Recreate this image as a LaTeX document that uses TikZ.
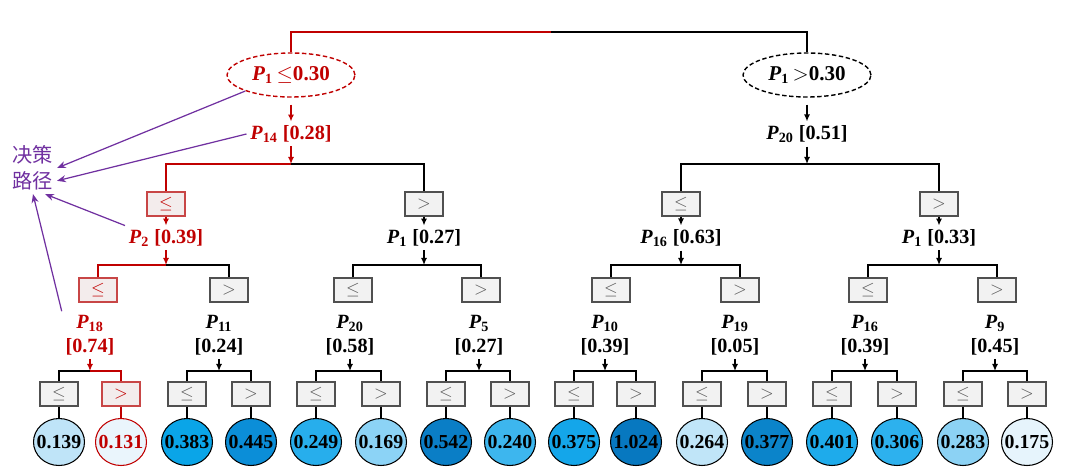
\documentclass[tikz,border=0pt]{standalone}
\usepackage{fontspec}
\setmainfont{Liberation Serif}
\newfontfamily\cjk{Noto Sans CJK SC}
\usepackage{tikz}
\usetikzlibrary{shapes.geometric,arrows.meta}

\definecolor{tred}{RGB}{192,0,0}
\definecolor{tpurple}{RGB}{112,48,160}
\definecolor{boxedge}{RGB}{80,80,80}
\definecolor{boxfill}{RGB}{242,242,242}
\definecolor{boxred}{RGB}{200,70,70}
\definecolor{boxpink}{RGB}{243,236,236}
\definecolor{signgray}{RGB}{90,90,90}
% leaf fills
\definecolor{cA}{HTML}{BFE4F8}
\definecolor{cB}{HTML}{EAF5FC}
\definecolor{cC}{HTML}{0AA5E8}
\definecolor{cD}{HTML}{0B8ED8}
\definecolor{cE}{HTML}{27AEEC}
\definecolor{cF}{HTML}{8CD3F6}
\definecolor{cG}{HTML}{0A7EC6}
\definecolor{cH}{HTML}{3DB6EE}
\definecolor{cI}{HTML}{14A6EA}
\definecolor{cJ}{HTML}{0778C0}
\definecolor{cK}{HTML}{C0E5F8}
\definecolor{cL}{HTML}{0B84CA}
\definecolor{cM}{HTML}{1EABEB}
\definecolor{cN}{HTML}{2DB1EE}
\definecolor{cO}{HTML}{8CD2F4}
\definecolor{cP}{HTML}{E6F4FC}

\newcommand{\pv}[1]{\textit{P}\textsubscript{#1}}

\tikzstyle{cond} = [ellipse, draw, dash pattern=on 2.5pt off 1.5pt, line width=0.8pt,
minimum width=2.56cm, minimum height=0.88cm, inner sep=0pt,
font=\bfseries\fontsize{12}{14}\selectfont]
\tikzstyle{split} = [inner sep=2pt, align=center, font=\bfseries\fontsize{11.5}{13.6}\selectfont]
\tikzstyle{sign} = [draw=boxedge, fill=boxfill, line width=0.8pt, minimum width=0.76cm,
minimum height=0.48cm, inner sep=0pt, text=signgray]
\tikzstyle{redsign} = [sign, draw=boxred, fill=boxpink, text=tred]
\tikzstyle{leaf} = [ellipse, draw, line width=0.6pt, minimum width=1.02cm, minimum height=0.94cm,
inner xsep=-2.6pt, inner ysep=0pt, font=\bfseries\fontsize{11.3}{13}\selectfont]
\tikzstyle{link} = [line width=0.8pt]
\tikzstyle{arr} = [link, -{Latex[length=4pt,width=3.5pt]}]
\tikzstyle{note} = [draw=tpurple, line width=0.7pt, -{Stealth[length=5pt,width=4pt]}]

\begin{document}
\begin{tikzpicture}[x=0.02cm,y=-0.02cm]
\useasboundingbox (0,0) rectangle (1069,474);

% root
\coordinate (top) at (551,32);
\node[cond, draw=tred, text=tred] (c1) at (291,75) {\pv{1}\,$\leq$0.30};
\node[cond] (c2) at (807,75) {\pv{1}\,$>$0.30};
\draw[link, tred] (c1.north) |- (top);
\draw[link] (c2.north) |- (top);

% level 2
\node[split, text=tred] (s14) at (291,134) {\pv{14} [0.28]};
\node[split] (s20a) at (807,134) {\pv{20} [0.51]};
\draw[arr, tred, shorten <=4pt] (c1) -- (s14);
\draw[arr, shorten <=4pt] (c2) -- (s20a);
\coordinate (j14) at (291,164);
\coordinate (j20a) at (807,164);
\draw[arr, tred] (s14) -- (j14);
\draw[arr] (s20a) -- (j20a);
\node[redsign] (b14l) at (166,204) {$\leq$};
\node[sign] (b14r) at (424,204) {$>$};
\node[sign] (b20l) at (681,204) {$\leq$};
\node[sign] (b20r) at (939,204) {$>$};
\draw[link, tred] (j14) -| (b14l);
\draw[link] (j14) -| (b14r);
\draw[link] (j20a) -| (b20l);
\draw[link] (j20a) -| (b20r);

% level 3
\node[split, text=tred] (s2) at (166,238) {\pv{2} [0.39]};
\node[split] (s1a) at (424,238) {\pv{1} [0.27]};
\node[split] (s16a) at (681,238) {\pv{16} [0.63]};
\node[split] (s1b) at (939,238) {\pv{1} [0.33]};
\draw[arr, tred] (b14l) -- (s2);
\draw[arr] (b14r) -- (s1a);
\draw[arr] (b20l) -- (s16a);
\draw[arr] (b20r) -- (s1b);
\coordinate (j2) at (166,265);
\coordinate (j1a) at (424,265);
\coordinate (j16a) at (681,265);
\coordinate (j1b) at (939,265);
\draw[arr, tred] (s2) -- (j2);
\draw[arr] (s1a) -- (j1a);
\draw[arr] (s16a) -- (j16a);
\draw[arr] (s1b) -- (j1b);
\node[redsign] (b2l) at (98,290) {$\leq$};
\node[sign] (b2r) at (229,290) {$>$};
\node[sign] (b1al) at (353,290) {$\leq$};
\node[sign] (b1ar) at (481,290) {$>$};
\node[sign] (b16al) at (611,290) {$\leq$};
\node[sign] (b16ar) at (740,290) {$>$};
\node[sign] (b1bl) at (868,290) {$\leq$};
\node[sign] (b1br) at (997,290) {$>$};
\draw[link, tred] (j2) -| (b2l);
\draw[link] (j2) -| (b2r);
\draw[link] (j1a) -| (b1al);
\draw[link] (j1a) -| (b1ar);
\draw[link] (j16a) -| (b16al);
\draw[link] (j16a) -| (b16ar);
\draw[link] (j1b) -| (b1bl);
\draw[link] (j1b) -| (b1br);

% level 4
\node[split, text=tred] (s18) at (90,335) {\pv{18}\\{}[0.74]};
\node[split] (s11) at (219,335) {\pv{11}\\{}[0.24]};
\node[split] (s20b) at (350,335) {\pv{20}\\{}[0.58]};
\node[split] (s5) at (479,335) {\pv{5}\\{}[0.27]};
\node[split] (s10) at (605,335) {\pv{10}\\{}[0.39]};
\node[split] (s19) at (735,335) {\pv{19}\\{}[0.05]};
\node[split] (s16b) at (865,335) {\pv{16}\\{}[0.39]};
\node[split] (s9) at (995,335) {\pv{9}\\{}[0.45]};
\coordinate (j18) at (90,371);
\coordinate (j11) at (219,371);
\coordinate (j20b) at (350,371);
\coordinate (j5) at (479,371);
\coordinate (j10) at (605,371);
\coordinate (j19) at (735,371);
\coordinate (j16b) at (865,371);
\coordinate (j9) at (995,371);
\draw[arr, tred] (s18) -- (j18);
\draw[arr] (s11) -- (j11);
\draw[arr] (s20b) -- (j20b);
\draw[arr] (s5) -- (j5);
\draw[arr] (s10) -- (j10);
\draw[arr] (s19) -- (j19);
\draw[arr] (s16b) -- (j16b);
\draw[arr] (s9) -- (j9);

% leaf signs
\node[sign] (b18l) at (59,394) {$\leq$};
\node[redsign] (b18r) at (121,394) {$>$};
\node[sign] (b11l) at (187,394) {$\leq$};
\node[sign] (b11r) at (251,394) {$>$};
\node[sign] (b20bl) at (316,394) {$\leq$};
\node[sign] (b20br) at (381,394) {$>$};
\node[sign] (b5l) at (446,394) {$\leq$};
\node[sign] (b5r) at (510,394) {$>$};
\node[sign] (b10l) at (574,394) {$\leq$};
\node[sign] (b10r) at (636,394) {$>$};
\node[sign] (b19l) at (702,394) {$\leq$};
\node[sign] (b19r) at (767,394) {$>$};
\node[sign] (b16bl) at (832,394) {$\leq$};
\node[sign] (b16br) at (897,394) {$>$};
\node[sign] (b9l) at (963,394) {$\leq$};
\node[sign] (b9r) at (1027,394) {$>$};
\draw[link] (j18) -| (b18l);
\draw[link, tred] (j18) -| (b18r);
\draw[link] (j11) -| (b11l);
\draw[link] (j11) -| (b11r);
\draw[link] (j20b) -| (b20bl);
\draw[link] (j20b) -| (b20br);
\draw[link] (j5) -| (b5l);
\draw[link] (j5) -| (b5r);
\draw[link] (j10) -| (b10l);
\draw[link] (j10) -| (b10r);
\draw[link] (j19) -| (b19l);
\draw[link] (j19) -| (b19r);
\draw[link] (j16b) -| (b16bl);
\draw[link] (j16b) -| (b16br);
\draw[link] (j9) -| (b9l);
\draw[link] (j9) -| (b9r);

% leaves
\node[leaf, fill=cA] (l1) at (59,442) {0.139};
\node[leaf, fill=cB, draw=tred, text=tred] (l2) at (121,442) {0.131};
\node[leaf, fill=cC] (l3) at (187,442) {0.383};
\node[leaf, fill=cD] (l4) at (251,442) {0.445};
\node[leaf, fill=cE] (l5) at (316,442) {0.249};
\node[leaf, fill=cF] (l6) at (381,442) {0.169};
\node[leaf, fill=cG] (l7) at (446,442) {0.542};
\node[leaf, fill=cH] (l8) at (510,442) {0.240};
\node[leaf, fill=cI] (l9) at (574,442) {0.375};
\node[leaf, fill=cJ] (l10) at (636,442) {1.024};
\node[leaf, fill=cK] (l11) at (702,442) {0.264};
\node[leaf, fill=cL] (l12) at (767,442) {0.377};
\node[leaf, fill=cM] (l13) at (832,442) {0.401};
\node[leaf, fill=cN] (l14) at (897,442) {0.306};
\node[leaf, fill=cO] (l15) at (963,442) {0.283};
\node[leaf, fill=cP] (l16) at (1027,442) {0.175};
\draw[link] (b18l) -- (l1);
\draw[link, tred] (b18r) -- (l2);
\draw[link] (b11l) -- (l3);
\draw[link] (b11r) -- (l4);
\draw[link] (b20bl) -- (l5);
\draw[link] (b20br) -- (l6);
\draw[link] (b5l) -- (l7);
\draw[link] (b5r) -- (l8);
\draw[link] (b10l) -- (l9);
\draw[link] (b10r) -- (l10);
\draw[link] (b19l) -- (l11);
\draw[link] (b19r) -- (l12);
\draw[link] (b16bl) -- (l13);
\draw[link] (b16br) -- (l14);
\draw[link] (b9l) -- (l15);
\draw[link] (b9r) -- (l16);

% decision path note
\node[text=tpurple, align=center, inner sep=2pt, font=\cjk\fontsize{11.5}{14.7}\selectfont] (path) at (33,168) {决策\\路径};
\draw[note] (c1.south west) -- (path.east);
\draw[note] (s14.west) -- (path.-28);
\draw[note] (s2.north west) -- (path.-65);
\draw[note] (s18.north west) -- (path.south);
\end{tikzpicture}
\end{document}
